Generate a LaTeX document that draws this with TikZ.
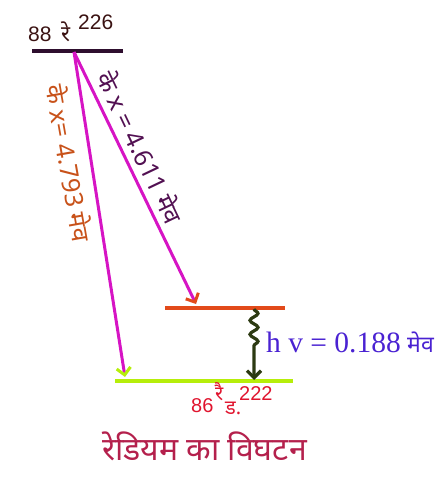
\documentclass[tikz,border=0pt]{standalone}
\usepackage{fontspec}
\setmainfont{Liberation Sans}
\newfontfamily\hindi[Script=Devanagari]{Noto Sans}
\newfontfamily\serifnum{Liberation Serif}
\usetikzlibrary{positioning,arrows.meta,decorations.pathmorphing}

\definecolor{toplevel}{HTML}{2E0E2E}
\definecolor{topname}{HTML}{3A1212}
\definecolor{alphaline}{HTML}{D614C4}
\definecolor{exlevel}{HTML}{E24A1A}
\definecolor{grlevel}{HTML}{B6EE0A}
\definecolor{gammaline}{HTML}{2C3A12}
\definecolor{gammatext}{HTML}{4A22D2}
\definecolor{rnname}{HTML}{E0142E}
\definecolor{titlecol}{HTML}{B4204C}
\definecolor{leftlab}{HTML}{C8521A}
\definecolor{rightlab}{HTML}{521052}

\tikzset{
  level/.style={line width=3.4pt},
  alpha/.style={draw=alphaline, line width=3pt},
  lab/.style={inner sep=0pt, font=\hindi\fontsize{25}{25}\selectfont}
}

\begin{document}
\begin{tikzpicture}[x=1pt,y=-1pt]
  \useasboundingbox (0,0) rectangle (445,478);

  % energy levels
  \coordinate (ra-l) at (32,51);
  \coordinate (ra-r) at (123,51);
  \coordinate (src) at (74,52);
  \coordinate (ex-l) at (165,308);
  \coordinate (ex-r) at (285,308);
  \coordinate (gr-l) at (115,381);
  \coordinate (gr-r) at (293,381);
  \coordinate (ex-end) at (196,304);
  \coordinate (gr-end) at (125,377);
  \coordinate (gam-top) at (254,309);
  \coordinate (gam-bot) at (254,380);

  \draw[level, draw=toplevel] (ra-l) -- (ra-r);
  \draw[level, draw=exlevel] (ex-l) -- (ex-r);
  \draw[level, draw=grlevel] (gr-l) -- (gr-r);

  % alpha transitions
  \draw[alpha, -{Straight Barb[length=7pt,width=14pt,color=exlevel]}] (src) -- (ex-end);
  \draw[alpha, -{Straight Barb[length=7pt,width=14pt,color=grlevel]}] (src) -- (gr-end);

  % gamma
  \draw[gammaline, line width=3.2pt,
        decorate, decoration={snake, amplitude=4pt, segment length=14pt, post length=32pt},
        -{Straight Barb[length=7pt,width=14pt]}] (gam-top) -- (gam-bot);

  % labels
  \node[anchor=base west, inner sep=0pt, text=topname, font=\fontsize{21}{21}\selectfont] (z-ra) at (28,42) {88};
  \node[anchor=base west, inner sep=0pt, text=topname, font=\hindi\fontsize{22}{22}\selectfont] (sym-ra) at (61,42) {रे};
  \node[anchor=base west, inner sep=0pt, text=topname, font=\fontsize{21}{21}\selectfont] (a-ra) at (78,30) {226};

  \node[lab, text=leftlab, rotate=-80] (lab-left) at (70,163) {के x= 4.793 मेव};
  \node[lab, text=rightlab, rotate=-64.5] (lab-right) at (141,147) {के x = 4.611 मेव};

  \node[anchor=base west, inner sep=0pt, text=gammatext, font=\serifnum\fontsize{29.5}{29.5}\selectfont] (gam-lab) at (266,352) {h v = 0.188};
  \node[inner sep=0pt, text=gammatext, font=\hindi\fontsize{23}{23}\selectfont, right=6pt of gam-lab.base east, anchor=base west] (gam-unit) {मेव};

  \node[anchor=base west, inner sep=0pt, text=rnname, font=\fontsize{20}{20}\selectfont] (z-rn) at (191,412) {86};
  \node[anchor=base west, inner sep=0pt, text=rnname, font=\hindi\fontsize{20}{20}\selectfont] (sym-rn) at (215,400) {रै};
  \node[anchor=base west, inner sep=0pt, text=rnname, font=\hindi\fontsize{20}{20}\selectfont] (sub-rn) at (225,414) {ड.};
  \node[anchor=base west, inner sep=0pt, text=rnname, font=\fontsize{20}{20}\selectfont] (a-rn) at (239,400) {222};

  \node[anchor=base west, inner sep=0pt, text=titlecol, font=\hindi\fontsize{32}{32}\selectfont] (title) at (102,460) {रेडियम का विघटन};
\end{tikzpicture}
\end{document}
